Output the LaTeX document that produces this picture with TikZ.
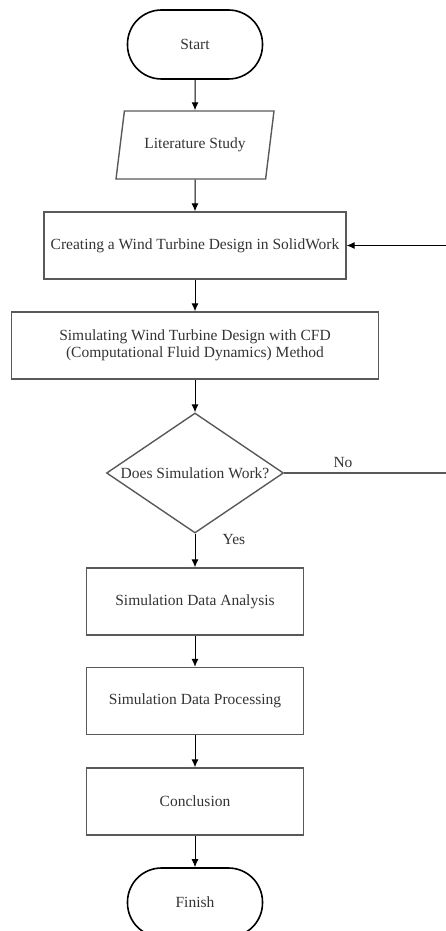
\documentclass[tikz,border=0pt]{standalone}
\usepackage{fontspec}
\setmainfont{Liberation Serif}
\usetikzlibrary{shapes.geometric,arrows.meta}

\begin{document}
\begin{tikzpicture}[x = 1pt, y = -1pt, line width = 1pt,
                    font = \fontsize{15.5}{16.5}\selectfont,
                    term/.style = {rectangle, rounded corners = 34pt, draw = black, line width = 1.6pt,
                                   minimum width = 135pt, minimum height = 69pt, text = black!80},
                    io/.style = {trapezium, trapezium left angle = 68, trapezium right angle = 112,
                                 trapezium stretches body, draw = black!65, line width = 1.4pt,
                                 minimum width = 158pt, minimum height = 68pt, text = black!80},
                    proc/.style = {rectangle, draw = black!65, line width = 1.4pt, align = center,
                                   minimum height = 67pt, text = black!80},
                    dec/.style = {diamond, draw = black!65, line width = 1.4pt, inner sep = 0pt,
                                  minimum width = 177pt, minimum height = 120pt, text = black!80},
                    flow/.style = {-{Latex[length = 8pt, width = 7pt]}, black, line width = 1pt}]

\useasboundingbox (0,0) rectangle (446,931);

% main column
\node [term] (S) at (195,44.5) {Start};
\node [io] (L) at (195,145) {Literature Study};
\node [proc, minimum width = 302pt] (B1) at (195,245.5) {Creating a Wind Turbine Design in SolidWork};
\node [proc, minimum width = 367pt] (B2) at (195,345.5) {Simulating Wind Turbine Design with CFD \\ (Computational Fluid Dynamics) Method};
\node [dec, label = {[text = black!80]center:Does Simulation Work?}] (D) at (195,473) {};
\node [proc, minimum width = 217pt] (B3) at (195,601.5) {Simulation Data Analysis};
\node [proc, minimum width = 217pt] (B4) at (195,701) {Simulation Data Processing};
\node [proc, minimum width = 217pt] (B5) at (195,801.5) {Conclusion};
\node [term] (F) at (195,902.5) {Finish};

% branch labels
\node [text = black!80] (lNo) at (343,462) {No};
\node [text = black!80] (lYes) at (234,539) {Yes};

% loop ends at the right border
\coordinate (Rin) at (446,245.5);
\coordinate (Rout) at (446,473);

\draw[flow] (S)--(L);
\draw[flow] (L)--(B1);
\draw[flow] (B1)--(B2);
\draw[flow] (B2)--(D);
\draw[flow] (D)--(B3);
\draw[flow] (B3)--(B4);
\draw[flow] (B4)--(B5);
\draw[flow] (B5)--(F);
\draw[flow] (Rin)--(B1);
\draw[black!65, line width = 1.4pt] (D.east)--(Rout);

\end{tikzpicture}
\end{document}
